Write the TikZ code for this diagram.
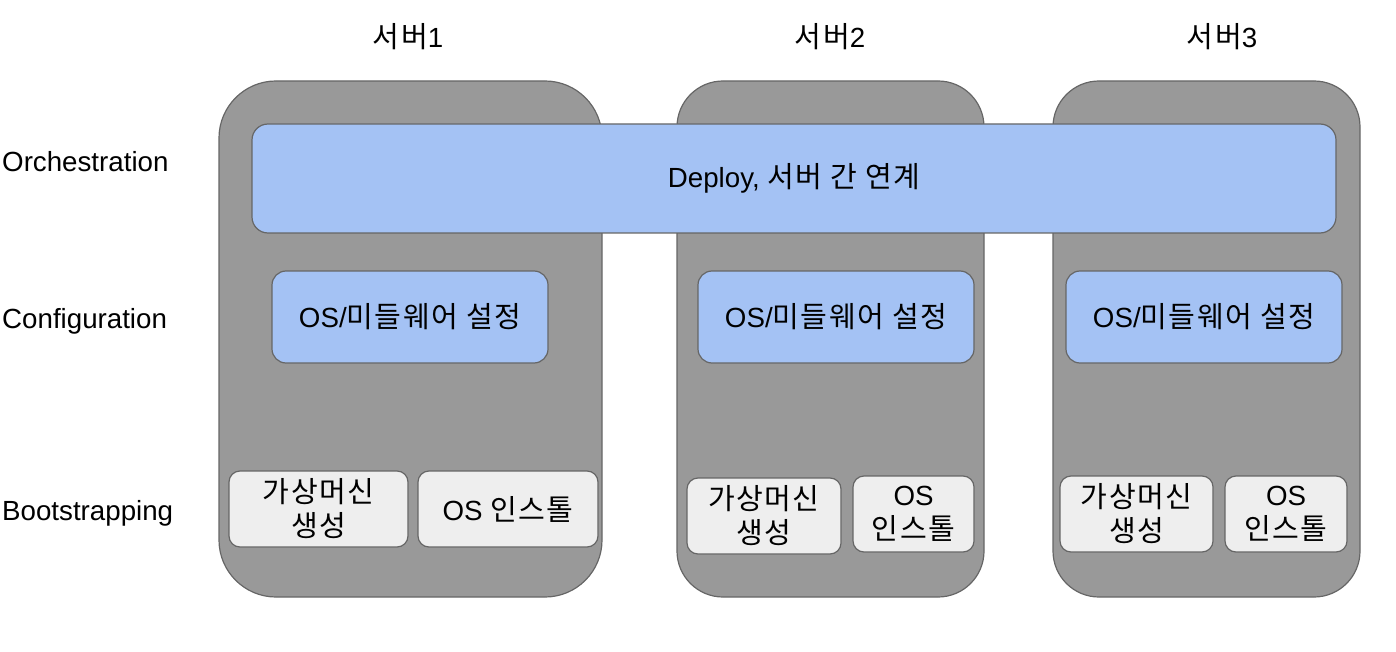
\documentclass[tikz,border=0pt]{standalone}
\usepackage{fontspec}
\setmainfont{Liberation Sans}
\newfontfamily\kr[Scale=1.05,LetterSpace=5]{Noto Sans CJK KR}
\definecolor{srvfill}{HTML}{999999}
\definecolor{edge}{HTML}{666666}
\definecolor{bluefill}{HTML}{A4C2F4}
\definecolor{lightfill}{HTML}{EEEEEE}
\tikzset{
  srv/.style={draw=edge, fill=srvfill, line width=1.2pt, inner sep=0pt},
  bluebox/.style={draw=edge, fill=bluefill, line width=1.2pt, rounded corners=14pt, inner sep=0pt, align=center},
  bootbox/.style={draw=edge, fill=lightfill, line width=1.2pt, rounded corners=11pt, inner sep=0pt, align=center},
  lbl/.style={anchor=base west, inner sep=0pt},
  ttl/.style={anchor=base, inner sep=0pt},
}
\begin{document}
\begin{tikzpicture}[x=1pt, y=-1pt, font=\fontsize{27.7}{34}\selectfont]
\useasboundingbox (0,0) rectangle (1396,652);
% servers
\node[srv, rounded corners=57pt, minimum width=383pt, minimum height=516pt] (s1) at (410.5,339) {};
\node[srv, rounded corners=46pt, minimum width=307pt, minimum height=516pt] (s2) at (830.5,339) {};
\node[srv, rounded corners=46pt, minimum width=307pt, minimum height=516pt] (s3) at (1206.5,339) {};
% titles
\node[ttl] (t1) at (408,48) {{\kr 서버}1};
\node[ttl] (t2) at (830,48) {{\kr 서버}2};
\node[ttl] (t3) at (1222,48) {{\kr 서버}3};
% layer labels
\node[lbl] (lo) at (2,172) {Orchestration};
\node[lbl] (lc) at (2,328) {Configuration};
\node[lbl] (lb) at (2,520) {Bootstrapping};
% orchestration
\node[bluebox, rounded corners=16pt, minimum width=1084pt, minimum height=109pt] (orch) at (794,178.5) {Deploy, {\kr 서버 간 연계}};
% configuration
\node[bluebox, minimum width=276pt, minimum height=92pt] (c1) at (410,317) {OS/{\kr 미들웨어 설정}};
\node[bluebox, minimum width=276pt, minimum height=92pt] (c2) at (836,317) {OS/{\kr 미들웨어 설정}};
\node[bluebox, minimum width=276pt, minimum height=92pt] (c3) at (1204,317) {OS/{\kr 미들웨어 설정}};
% bootstrapping
\node[bootbox, minimum width=179pt, minimum height=76pt] (b11) at (318.5,509) {\kr 가상머신\\\kr 생성};
\node[bootbox, minimum width=180pt, minimum height=76pt] (b12) at (508,509) {OS {\kr 인스톨}};
\node[bootbox, minimum width=154pt, minimum height=76pt] (b21) at (764,516) {\kr 가상머신\\\kr 생성};
\node[bootbox, minimum width=121pt, minimum height=76pt] (b22) at (913.5,514) {OS\\\kr 인스톨};
\node[bootbox, minimum width=153pt, minimum height=76pt] (b31) at (1136.5,514) {\kr 가상머신\\\kr 생성};
\node[bootbox, minimum width=122pt, minimum height=76pt] (b32) at (1286,514) {OS\\\kr 인스톨};
\end{tikzpicture}
\end{document}
